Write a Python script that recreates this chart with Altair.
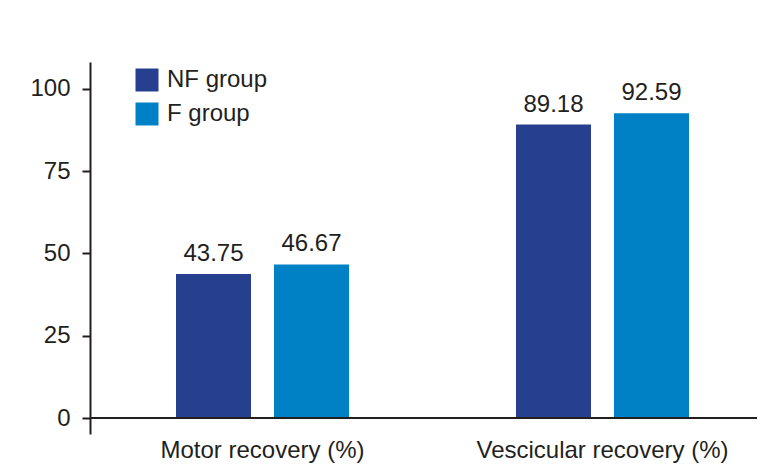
import altair as alt
import pandas as pd

categories = ["Motor recovery (%)", "Vescicular recovery (%)"]
groups = ["NF group", "F group"]
nf_values = [43.75, 89.18]
f_values = [46.67, 92.59]
y_ticks = [0, 25, 50, 75, 100]
colors = ["#263F8E", "#0081C6"]

rows = []
for c, nf, f in zip(categories, nf_values, f_values):
    rows.append({"category": c, "group": groups[0], "value": nf})
    rows.append({"category": c, "group": groups[1], "value": f})
df = pd.DataFrame(rows)

FONT = "Liberation Sans"
TXT = "#231F20"
FS = 24

x_enc = alt.X("category:N", sort=categories, title=None,
              scale=alt.Scale(range=[2.5, 682.5], paddingInner=0, paddingOuter=0),
              axis=alt.Axis(domain=False, ticks=False, labelAngle=0, labelPadding=4,
                            labelLimit=0, labelFontSize=FS, labelFont=FONT,
                            labelColor=TXT))
xo_enc = alt.XOffset("group:N", sort=groups,
                     scale=alt.Scale(paddingInner=0.2347, paddingOuter=0.852))
y_enc = alt.Y("value:Q", title=None,
              scale=alt.Scale(domain=[-4.86, 108.2], nice=False, zero=False),
              axis=alt.Axis(values=y_ticks, grid=False, tickSize=8, tickWidth=2,
                            tickColor=TXT, domainColor=TXT, domainWidth=2,
                            labelPadding=12, labelFontSize=FS, labelFont=FONT,
                            labelColor=TXT))

base = alt.Chart(df)

bars = base.mark_bar().encode(
    x=x_enc, xOffset=xo_enc, y=y_enc, y2=alt.datum(0),
    color=alt.Color("group:N", sort=groups,
                    scale=alt.Scale(domain=groups, range=colors),
                    legend=alt.Legend(title=None, orient="none", legendX=45, legendY=6,
                                      symbolType="square", symbolSize=529,
                                      symbolStrokeWidth=0, labelFontSize=FS,
                                      labelFont=FONT, labelColor=TXT, labelOffset=8,
                                      rowPadding=10, padding=0)),
)

labels = base.mark_text(baseline="bottom", dy=-8, fontSize=FS, font=FONT, color=TXT).encode(
    x=x_enc, xOffset=xo_enc, y=y_enc, text=alt.Text("value:Q", format=".2f"),
)

xrule = alt.Chart(pd.DataFrame({"z": [0]})).mark_rule(color=TXT, strokeWidth=2).encode(
    y=alt.Y("z:Q", scale=alt.Scale(domain=[-4.86, 108.2], nice=False, zero=False))
)

chart = alt.layer(bars, labels, xrule).properties(
    width=667, height=372,
    autosize=alt.AutoSizeParams(type="none"),
    padding={"left": 82, "top": 54, "right": 0, "bottom": 30},
    background="white",
).configure_view(stroke=None)

chart.save("out.html", embed_options={"renderer": "svg", "actions": False})
